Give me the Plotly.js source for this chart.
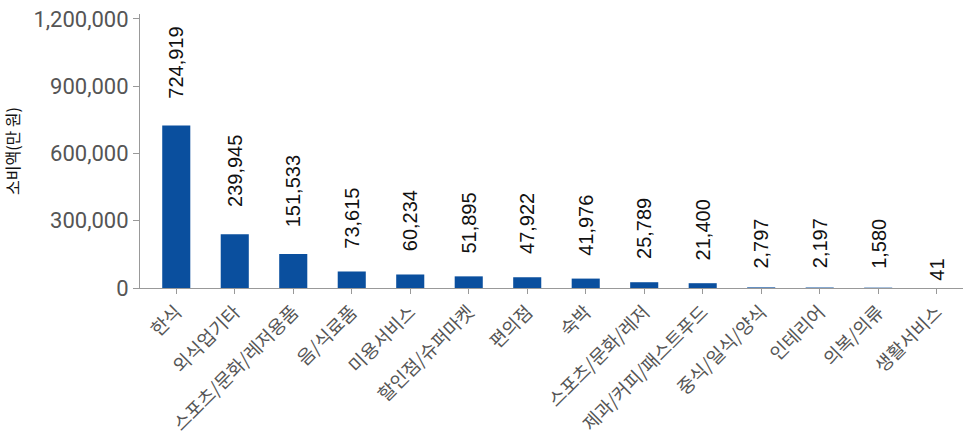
<!DOCTYPE html>
<html>
<head>
<meta charset="utf-8">
<script src="https://cdn.plot.ly/plotly-3.0.1.min.js"></script>
<style>html,body{margin:0;padding:0;background:#fff;}#chart{width:969px;height:441px;}</style>
</head>
<body>
<div id="chart"></div>
<script>
const categories = ["한식","외식업기타","스포츠/문화/레저용품","음/식료품","미용서비스","할인점/슈퍼마켓","편의점","숙박","스포츠/문화/레저","제과/커피/패스트푸드","중식/일식/양식","인테리어","의복/의류","생활서비스"];
const values = [724919,239945,151533,73615,60234,51895,47922,41976,25789,21400,2797,2197,1580,41];
const yTicks = [0,300000,600000,900000,1200000];

const tickFam = "Roboto, sans-serif";
const catFam = "'Noto Sans CJK KR', sans-serif";
const valFam = "'Liberation Sans', Arial, sans-serif";
const labels = values.map(v => v.toLocaleString('en-US'));

const annotations = values.map((v, i) => ({
  x: categories[i], y: v, xref: 'x', yref: 'y',
  text: labels[i], showarrow: false, textangle: -90,
  xanchor: 'center', yanchor: 'bottom',
  yshift: 4 * labels[i].length - 3,
  font: {family: valFam, size: 20, color: '#111'}
}));

const trace = {
  type: 'bar', x: categories, y: values,
  marker: {color: '#0a4f9e'}, width: 0.48,
  hoverinfo: 'x+y'
};

const layout = {
  width: 969, height: 441,
  margin: {l: 140, r: 6, t: 14, b: 153},
  paper_bgcolor: '#fff', plot_bgcolor: '#fff',
  showlegend: false,
  xaxis: {
    type: 'category', range: [-0.62, 13.45],
    tickangle: -45, ticks: 'outside', ticklen: 5, tickcolor: '#999',
    showline: true, linecolor: '#999', linewidth: 1,
    showgrid: false, zeroline: false,
    tickfont: {family: catFam, size: 18.5, color: '#555'}
  },
  yaxis: {
    range: [0, 1222000], tickvals: yTicks, tickformat: ',d',
    ticks: 'outside', ticklen: 6, tickcolor: '#999',
    showline: true, linecolor: '#999', linewidth: 1,
    showgrid: false, zeroline: false,
    tickfont: {family: tickFam, size: 22, color: '#555'},
    title: {text: '소비액(만 원)', font: {family: catFam, size: 16, color: '#111'}, standoff: 10}
  },
  annotations: annotations
};

Plotly.newPlot('chart', [trace], layout, {displayModeBar: false, staticPlot: true});
</script>
</body>
</html>
